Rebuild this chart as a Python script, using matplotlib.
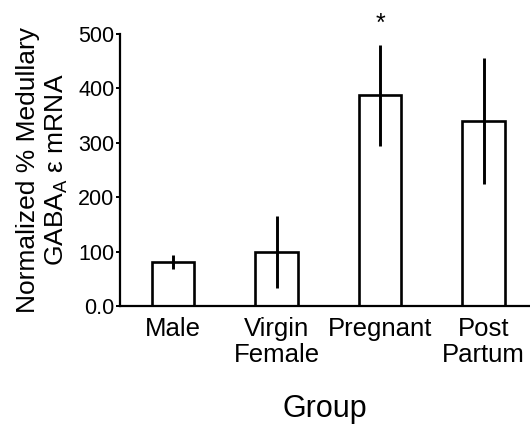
import matplotlib
matplotlib.use("Agg")
import matplotlib.pyplot as plt
import numpy as np

plt.rcParams['font.family'] = ['Liberation Sans', 'DejaVu Sans']
plt.rcParams['mathtext.fontset'] = 'custom'
plt.rcParams['mathtext.rm'] = 'Liberation Sans'
plt.rcParams['mathtext.it'] = 'Liberation Sans'

categories = ["Male", "Virgin\nFemale", "Pregnant", "Post\nPartum"]
means = [81, 100, 387, 340]
errors = [12, 66, 93, 115]
yticks = [0, 100, 200, 300, 400, 500]
yticklabels = ["0.0", "100", "200", "300", "400", "500"]

fig = plt.figure(figsize=(5.3, 4.24), dpi=100)
ax = fig.add_axes([0.2264, 0.278, 0.7736, 0.642])

x = np.arange(len(categories))
ax.bar(x, means, width=0.41, facecolor='white', edgecolor='black', linewidth=1.9)
ax.errorbar(x, means, yerr=errors, fmt='none', ecolor='black', elinewidth=2.1, capsize=0)

ax.text(2, 518, '*', ha='center', va='center', fontsize=18, clip_on=False)

ax.set_xlim(-0.512, 3.449)
ax.set_ylim(0, 500)
ax.set_yticks(yticks)
ax.set_yticklabels(yticklabels, fontsize=15.5)
ax.set_xticks(x)
ax.set_xticklabels(categories, fontsize=18.5, linespacing=1.1)
ax.tick_params(axis='x', length=0, pad=8)
ax.tick_params(axis='y', length=3, width=1.4, pad=1, direction='out')

for s in ['top', 'right']:
    ax.spines[s].set_visible(False)
for s in ['left', 'bottom']:
    ax.spines[s].set_linewidth(1.6)

ax.set_ylabel("Normalized % Medullary\nGABA$_\\mathrm{A}$ ε mRNA", fontsize=19, labelpad=6, linespacing=1.2)
ax.set_xlabel("Group", fontsize=22, labelpad=19.5)

fig.savefig("out.png", dpi=100)
